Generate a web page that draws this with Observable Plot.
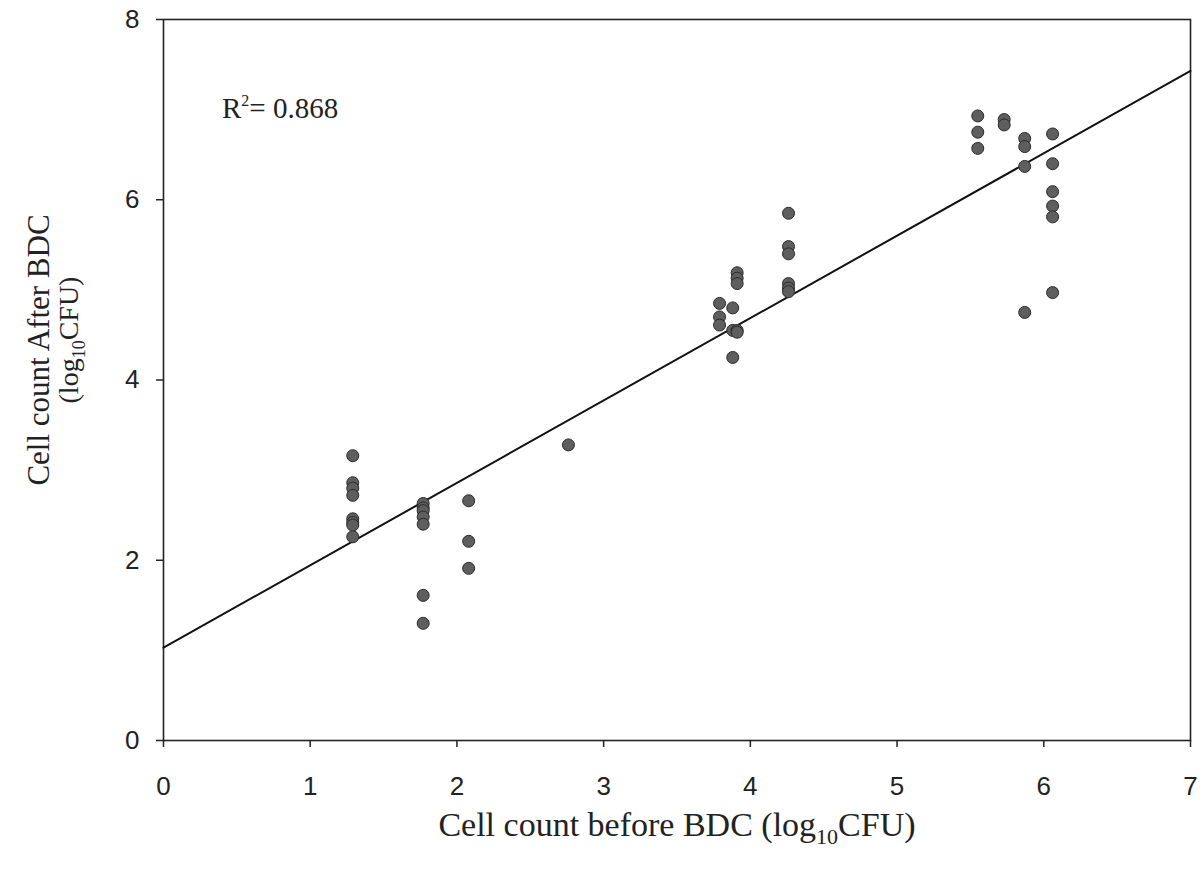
<!DOCTYPE html>
<html>
<head>
<meta charset="utf-8">
<script src="https://cdn.jsdelivr.net/npm/d3@7"></script>
<script src="https://cdn.jsdelivr.net/npm/@observablehq/plot@0.6"></script>
<style>
  html, body { margin: 0; padding: 0; background: #fff; }
  #chart svg { display: block; }
</style>
</head>
<body>
<div id="chart"></div>
<script>
// Cell count before BDC (x) and after BDC (y), log10 CFU
const beforeBDC = [
  1.29,1.29,1.29,1.29,1.29,1.29,1.29,1.29,
  1.77,1.77,1.77,1.77,1.77,1.77,1.77,
  2.08,2.08,2.08,
  2.76,
  3.79,3.79,3.79,
  3.88,3.88,3.88,
  3.91,3.91,3.91,3.91,3.91,
  4.26,4.26,4.26,4.26,4.26,4.26,
  5.55,5.55,5.55,
  5.73,5.73,
  5.87,5.87,5.87,5.87,
  6.06,6.06,6.06,6.06,6.06,6.06
];
const afterBDC = [
  3.16,2.86,2.80,2.72,2.46,2.42,2.39,2.26,
  2.63,2.58,2.55,2.48,2.40,1.61,1.30,
  2.66,2.21,1.91,
  3.28,
  4.85,4.70,4.61,
  4.80,4.25,4.55,
  5.19,5.13,5.07,4.55,4.53,
  5.85,5.48,5.40,5.07,5.02,4.98,
  6.93,6.75,6.57,
  6.89,6.83,
  6.68,6.59,6.37,4.75,
  6.73,6.40,6.09,5.93,5.81,4.97
];
// Regression line end points
const fitX = [0, 7];
const fitY = [1.03, 7.43];
const xTicks = [0,1,2,3,4,5,6,7];
const yTicks = [0,2,4,6,8];
const rSquared = "0.868";

const points = beforeBDC.map((x, i) => ({x, y: afterBDC[i]}));
const fit = fitX.map((x, i) => ({x, y: fitY[i]}));

const W = 1202, H = 872;
const plot = Plot.plot({
  width: W,
  height: H,
  marginLeft: 163,
  marginRight: 12,
  marginTop: 19,
  marginBottom: 132,
  style: {fontFamily: "'Liberation Sans', Arial, sans-serif", fontSize: "26px", color: "#222", background: "#fff"},
  x: {domain: [0, 7]},
  y: {domain: [0, 8]},
  marks: [
    Plot.frame({stroke: "#222", strokeWidth: 1.6}),
    Plot.axisX({ticks: xTicks, tickFormat: d3.format("d"), tickSize: 7, tickPadding: 29, label: null, fontSize: 26, stroke: "#222", strokeWidth: 1.5}),
    Plot.axisY({ticks: yTicks, tickFormat: d3.format("d"), tickSize: 7, tickPadding: 17, label: null, fontSize: 26, stroke: "#222", strokeWidth: 1.5}),
    Plot.line(fit, {x: "x", y: "y", stroke: "#111", strokeWidth: 2}),
    Plot.dot(points, {x: "x", y: "y", r: 6, fill: "#5e5e5e", stroke: "#2a2a2a", strokeWidth: 1})
  ]
});
document.getElementById("chart").appendChild(plot);

const svg = d3.select(plot);
const serif = "'Liberation Serif', 'Times New Roman', serif";

// x axis title
const xt = svg.append("text")
  .attr("x", 677).attr("y", 836)
  .attr("text-anchor", "middle")
  .attr("font-family", serif).attr("font-size", 34).attr("fill", "#222");
xt.append("tspan").text("Cell count before BDC (log");
xt.append("tspan").attr("font-size", 22).attr("dy", 8).text("10");
xt.append("tspan").attr("dy", -8).text("CFU)");

// y axis title (two lines, rotated)
svg.append("text")
  .attr("transform", "translate(49,350) rotate(-90)")
  .attr("text-anchor", "middle")
  .attr("font-family", serif).attr("font-size", 31).attr("fill", "#222")
  .text("Cell count After BDC");
const yt2 = svg.append("text")
  .attr("transform", "translate(78,340) rotate(-90)")
  .attr("text-anchor", "middle")
  .attr("font-family", serif).attr("font-size", 28).attr("fill", "#222");
yt2.append("tspan").text("(log");
yt2.append("tspan").attr("font-size", 18).attr("dy", 7).text("10");
yt2.append("tspan").attr("dy", -7).text("CFU)");

// R² annotation
const rt = svg.append("text")
  .attr("x", 222).attr("y", 118)
  .attr("text-anchor", "start")
  .attr("font-family", serif).attr("font-size", 29).attr("fill", "#222");
rt.append("tspan").text("R");
rt.append("tspan").attr("font-size", 16).attr("dy", -12).text("2");
rt.append("tspan").attr("dy", 12).text("= " + rSquared);
</script>
</body>
</html>
